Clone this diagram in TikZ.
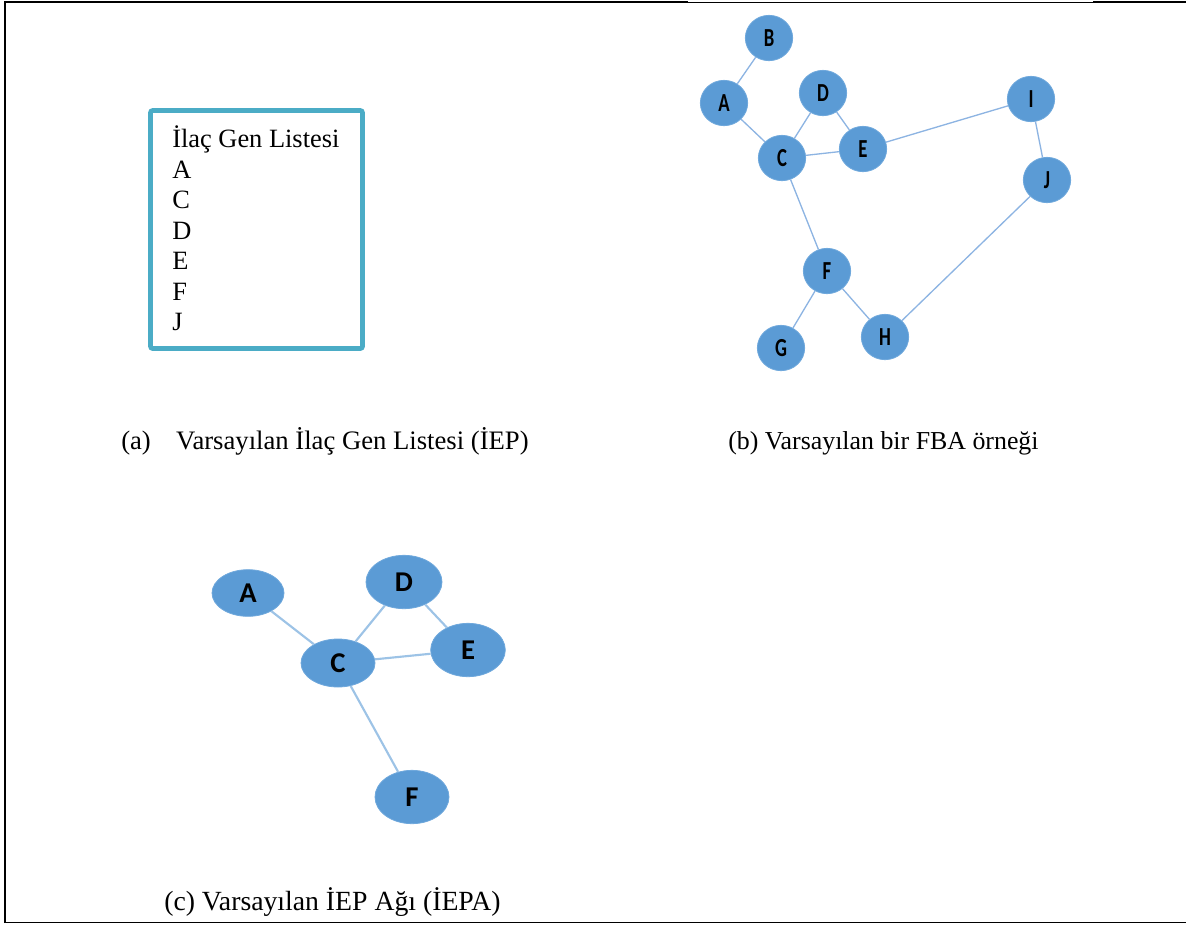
\documentclass[tikz,border=0pt]{standalone}
\usepackage{fontspec}
\usepackage{graphicx}
\setmainfont{Liberation Serif}
\newfontfamily\lblfont{Carlito}
\usetikzlibrary{shapes.geometric}
\definecolor{nodeblue}{HTML}{5B9BD5}
\definecolor{nodeedge}{HTML}{6FA8DC}
\definecolor{edgeblue}{HTML}{8DB4E2}
\definecolor{edgeblueC}{HTML}{9DC3E6}
\definecolor{boxteal}{HTML}{4BACC6}
\newcommand{\nl}[1]{\scalebox{0.72}[1]{#1}}
\tikzset{
  bnode/.style={ellipse, fill=nodeblue, draw=nodeedge, line width=0.6pt,
    minimum width=35.5pt, minimum height=34pt, inner sep=0pt,
    font=\lblfont\bfseries\fontsize{19.5}{19.5}\selectfont},
  cnode/.style={ellipse, fill=nodeblue, draw=nodeedge, line width=0.6pt,
    minimum width=55.5pt, minimum height=39pt, inner sep=0pt,
    font=\lblfont\bfseries\fontsize{21.5}{21.5}\selectfont},
  bedge/.style={draw=edgeblue, line width=1pt},
  cedge/.style={draw=edgeblueC, line width=1.6pt},
  txt/.style={anchor=base west, inner sep=0pt, font=\fontsize{19.8}{22}\selectfont},
  captext/.style={anchor=base west, inner sep=0pt, font=\fontsize{19.4}{22}\selectfont},
  listframe/.style={draw=boxteal, line width=3.4pt, rounded corners=1.5pt,
    minimum width=159pt, minimum height=178.5pt, inner sep=0pt},
}
\begin{document}
\begin{tikzpicture}[x=0.75pt, y=-0.75pt]
\useasboundingbox (0,0) rectangle (1186,926);
% outer frame
\draw[line width=1.5pt] (5,923) -- (5,2) -- (688,2);
\draw[line width=0.75pt] (688,2) -- (1093,2);
\draw[line width=1.5pt] (1093,2) -- (1186,2);
\draw[line width=1pt] (4,922.5) -- (1186,922.5);

% (a) list box
\node[listframe] (listbox) at (256.5,229.5) {};
\node[txt] (t0) at (172,147.5) {İlaç Gen Listesi};
\node[txt] (t1) at (172,178) {A};
\node[txt] (t2) at (172,208.5) {C};
\node[txt] (t3) at (172,239) {D};
\node[txt] (t4) at (172,269.5) {E};
\node[txt] (t5) at (172,300) {F};
\node[txt] (t6) at (172,330) {J};

% (b) graph
\node[bnode] (bB) at (769,38) {\nl{B}};
\node[bnode] (bA) at (724,103) {\nl{A}};
\node[bnode] (bD) at (823,93) {\nl{D}};
\node[bnode] (bE) at (863,149) {\nl{E}};
\node[bnode] (bC) at (782,158) {\nl{C}};
\node[bnode] (bI) at (1031,99) {\nl{I}};
\node[bnode] (bJ) at (1047,180) {\nl{J}};
\node[bnode] (bF) at (827,271) {\nl{F}};
\node[bnode] (bG) at (781,348) {\nl{G}};
\node[bnode] (bH) at (885,337) {\nl{H}};
\draw[bedge] (bB) -- (bA);
\draw[bedge] (bA) -- (bC);
\draw[bedge] (bD) -- (bC);
\draw[bedge] (bD) -- (bE);
\draw[bedge] (bC) -- (bE);
\draw[bedge] (bE) -- (bI);
\draw[bedge] (bI) -- (bJ);
\draw[bedge] (bC) -- (bF);
\draw[bedge] (bF) -- (bG);
\draw[bedge] (bF) -- (bH);
\draw[bedge] (bH) -- (bJ);

% (c) graph
\node[cnode, minimum width=54pt, minimum height=35pt] (cA) at (248,593) {A};
\node[cnode, minimum width=57pt, minimum height=40pt] (cD) at (404,582) {D};
\node[cnode, minimum width=56pt, minimum height=40pt] (cE) at (468,650) {E};
\node[cnode, minimum width=55.5pt, minimum height=36pt] (cC) at (338,663) {C};
\node[cnode, minimum width=55.5pt, minimum height=40pt] (cF) at (412,797) {F};
\draw[cedge] (cA) -- (cC);
\draw[cedge] (cD) -- (cC);
\draw[cedge] (cD) -- (cE);
\draw[cedge] (cC) -- (cE);
\draw[cedge] (cC) -- (cF);

% captions
\node[captext, font=\fontsize{20}{22}\selectfont] (capa) at (121,449.5) {(a)\hspace{19pt}Varsayılan İlaç Gen Listesi (İEP)};
\node[captext] (capb) at (728,449.5) {(b) Varsayılan bir FBA örneği};
\node[captext, font=\fontsize{20.8}{22}\selectfont] (capc) at (164,910) {(c) Varsayılan İEP Ağı (İEPA)};
\end{tikzpicture}
\end{document}
